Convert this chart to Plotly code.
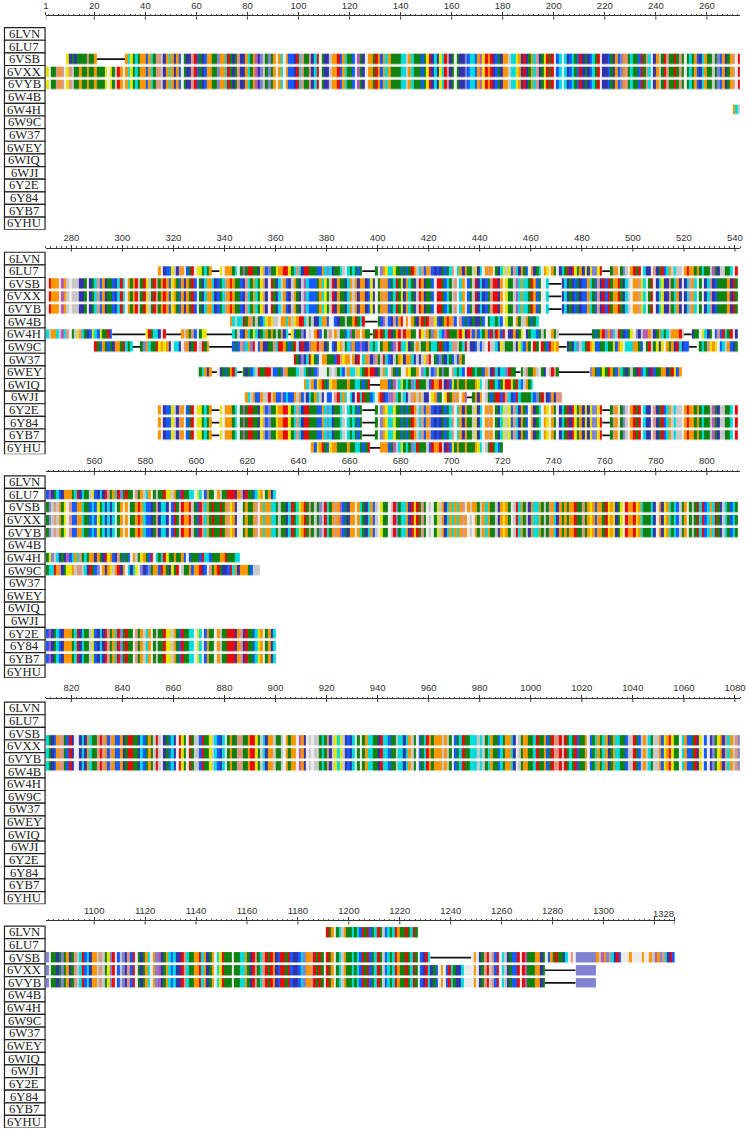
import plotly.graph_objects as go

W, H = 750, 1130
NAMES = ["6LVN","6LU7","6VSB","6VXX","6VYB","6W4B","6W4H","6W9C","6W37","6WEY","6WIQ","6WJI","6Y2E","6Y84","6YB7","6YHU"]

# residue classes and their colours
RES_COLORS = {
 "D":"#E60A0A","E":"#E60A0A","C":"#E6E600","M":"#E6E600","K":"#145AFF","R":"#145AFF",
 "S":"#FA9600","T":"#FA9600","F":"#3232AA","Y":"#3232AA","N":"#00DCDC","Q":"#00DCDC",
 "G":"#EBEBEB","L":"#0F820F","V":"#0F820F","I":"#0F820F","A":"#C8C8C8","W":"#B45AB4",
 "H":"#8282D2","P":"#DC9682"}

SPIKE_SIGNAL = "MFVFLVLLPLVS"
ALT_SIGNAL = "MGILPSPGMPALLSLVSLLSVLLMGCVAETGT"
SPIKE_N = ("SQCVNLTTRTQLPPAYTNSFTRGVYYPDKVFRSSVLHSTQDLFLPFFSNVTWFHAIHVSGTNGTKRFDNPVLPFNDGVYFASTEKSNIIRGWIFGTTLDSKTQSLLIVNNATNVVIKVCEFQFCNDPFLGVYYHKNNKSWMESEFRVYSSANNCTFEYVSQPFLMDLEGKQGNFKNLREFVFKNIDGYFKIYSKHTPINLVRDLPQGFSALEPLVDLPIGINITRFQTLLALHRSYLTPGDSSSGWTAGAAAYYVGYLQPRTFLLKYNENGTITDAVDCALDPLSETKCTLKSFTVEKGIYQTSNFRVQPTESIVRFPNITNLCPFGEVFNATRFASVYAWNRKRISNCVADYSVLYNSASFSTFKCYGVSPTKLNDLCFTNVYADSFVIRGDEVRQIAPGQTGKIADYNYKLPDDFTGCVIAWNSNNLDSKVGGN")
SPIKE_C_A = ("YNYLYRLFRKSNLKPFERDISTEIYQAGSTPCNGVEGFNCYFPLQSYGFQPTNGVGYQPYRVVVLSFELLHAPATVCGPKKSTNLVKNKCVNFNFNGLTGTGVLTESNKKFLPFQQFGRDIADTTDAVRDPQTLEILDITPCSFGGVSVITPGTNTSNQVAVLYQDVNCTEVPVAIHADQLTPTWRVYSTGSNVFQTRAGCLIGAEHVNNSYECDIPIGAGICASYQTQTNSP")
SPIKE_C_B = ("SVASQSIIAYTMSLGAENSVAYSNNSIAIPTNFTISVTTEILPVSMTKTSVDCTMYICGDSTECSNLLLQYGSFCTQLNRALTGIAVEQDKNTQEVFAQIKQIYKTPPIKDFGGFNFSQILPDPSKPSKRSFIEDLLFNKVTLADAGFIKQYGDCLGDIAARDLICAQKFNGLTVLPPLLTDEMIAQYTSALLAGTITSGWTFGAGAALQIPFAMQMAYRFNGIGVTQNVLYENQKLIANQFNSAIGKIQDSLSSTASALGKLQDVVNQNAQALNTLVKQLSSNFGAISSVLNDILSRLDPPEAEVQIDRLITGRLQSLQTYVTQQLIRAAEIRASANLAATKMSECVLGQSKRVDFCGKGYHLMSFPQSAPHGVVFLHVTYVPAQEKNFTTAPAICHDGKAHFPREGVFVSNGTHWFVTQRNFYEPQIITTDNTFVSGNCDVVIGIVNNTVYDPLQPELDSFKEELDKYFKNHTSPDVDLGDISGINASVVNIQKEIDRLNEVAKNLNESLIDLQELGKYEQ")
TAIL_VSB = "GSGYIPEAPRDGQAYVRKDGEWVLLSTFLGRSLEVLFQGPGHHHHHHHHSAWSHPQFEKGGGSGGGGSGGSAWSHPQFEK"
TAIL_VXX = "YIKGSGRENLYFQGGGGSGYIPEAPRDGQAYVRKDGEWVLLSTFLHHHHHHHH"
MPRO = "SGFRKMAFPSGKVEGCMVQVTCGTTTLNGLWLDDVVYCPRHVICTSEDMLNPNYEDLLIRKSNHNFLVQAGNVQLRVIGHSMQNCVLKLKVDTANPKTPKYKFVRIQPGQTFSVLACYNGSPSGVYQCAMRPNFTIKGSFLNGSCGSVGFNIDYDCVSFCYMHHMELPTGVHAGTDLEGNFYGPFVDRQTAQAAGTDTTITVNVLAWLYAAVINGDRWFLNRFTTTLNDFNLVAMKYNYEPLTQDHVDILGPLSAQTGIAVLDMCASLKELLQNGMNGRTILGSALLEDEFTPFDVVRQCSGVTFQ"
NSP9 = "SNANNELSPVALRQMSCAAGTTQTACTDDNALAYYNTTKGGRFVLALLSDLQDLKWARFPKSDGTGTIYTELEPPCRFVTDTPKGPKVKYLYFIKGLNNLNRGMVLGSLAATVRLQ"
NSP16 = "SNASSQAWQPGVAMPNLYKMQRMLLEKCDLQNYGDSATLPKGIMMNVAKYTQLCQYLNTLTLAVPYNMRVIHFGAGSDKGVAPGTAVLRQWLPTGTLLVDSDLNDFVSDADSTLIGDCATVHTANKWDLIISDMYDPKTKNVTKENDSKEGFFTYICGFIQQKLALGGSVAIKITEHSWNADLYKLMGHFAWWTAFVTNVNASSSEAFLIGCNYLGKPREQIDGYVMHANYIFWRNTNPIQLSSYSLFDMSKFPLKLRGTAVMSLKEGQINDMILSLLSKGRLIIRENNRVVISSDVLVNN"
PLPRO = "EVRTIKVFTTVDNINLHTQVVDMSMTYGQQFGPTYLDGADVTKIKPHNSHEGKTFYVLPNDDTLRVEAFEYYHTTDPSFLGRYMSALNHTKKWKYPQVNGLTSIKWADNNCYLATALLTLQQIELKFNPPALQDAYYRARAGEAANFCALILAYCNKTVGELGDVRETMSYLFQHANLDSCKRVLNVVCKTCGQQQTTLKGVEAVMYMGTLSYEQFKKGVQIPCTCGKQATKYLVQQESPFVMMSAPPAQYELKHGTFTCASEYTGNYQCGHYKHITSKETLYCIDGALLTKSSEYKGPITDVFYKENSYTTTIKAAA"
ORF7A = "ELYHYQECVRGTTVLLKEPCSSGTYEGNSPFHPLADNKFALTCFSTQFAFACPDGVKHVYQLRARSV"
MACRO = "GVNSFSGYLKLTDNVYIKNADIVEEAKKVKPTVVVNAANVYLKHGGGVAGALNKATNNAMQVESDDYIATNGPLKVGGSCVLSGHNLAKHCLHVVGPNVNKGEDIQLLKSAYENFNQHEVLLAPLLSAGIFGADPIHSLRVCVDTVRTNVYLAVFDKNLYDKLVSSFLEMKS"
NSP7_SNA = "SNASKMSDVKCTSVVLLSVLQQLRVESSSKLWAQCVQLHNDILLAKDTTEAFEKMVSLLSVLLSMQGAVDINKLCEEMLDNRATLQ"
NSP7_SHORT = "SKMSDVKCTSVVLLSVLQQLRVESSSKLWAQCVQLHNDILLAKDTTEAFEKMVSLLSVLLSMQGAVDINKL"
NCTD = "SNATKKSAAEASKKPRQKRTATKAYNVTQAFGRRGPEQTQGNFGDQELIRQGTDYKHWPQIAQFAPSASAFFGMSRIGMEVTPSGTWLTYTGAIKLDDKDPNFKDQVILLNKHIDAYKTFPP"
HR2 = "DISGINASVVNIQKEIDRLNEVAKNLNESLIDLQEL"

# name: first column, residues, [(column where a gap opens, gap length)]
MPRO_GAPS = [(335,3),(394,5),(488,3)]
ALIGN = {
 "6LVN": (1191, HR2, []),
 "6LU7": (314, MPRO, MPRO_GAPS),
 "6VSB": (8, SPIKE_SIGNAL+SPIKE_N+SPIKE_C_A+"GSAS"+SPIKE_C_B+TAIL_VSB, [(20,11),(467,5),(1232,16)]),
 "6VXX": (0, ALT_SIGNAL+SPIKE_N[1:]+SPIKE_C_A+"SGAG"+SPIKE_C_B+TAIL_VXX, [(467,5),(1277,12)]),
 "6VYB": (0, ALT_SIGNAL+SPIKE_N[1:]+SPIKE_C_A+"SGAG"+SPIKE_C_B+TAIL_VXX, [(467,5),(1277,12)]),
 "6W4B": (342, NSP9, [(395,5)]),
 "6W4H": (269, NSP16, [(296,13),(317,6),(333,10),(365,1),(397,1),(471,13),(520,3)]),
 "6W9C": (289, PLPRO, [(304,3),(334,9),(471,3),(522,3)]),
 "6W37": (367, ORF7A, []),
 "6WEY": (329, MACRO, [(335,2),(345,2),(454,2),(471,12)]),
 "6WIQ": (371, NSP7_SNA, [(397,4)]),
 "6WJI": (348, NCTD, [(435,2)]),
 "6Y2E": (314, MPRO, MPRO_GAPS),
 "6Y84": (314, MPRO, MPRO_GAPS),
 "6YB7": (314, MPRO, MPRO_GAPS),
 "6YHU": (374, NSP7_SHORT, [(397,4)]),
}

PANEL_COLS = [(0,272),(270,541),(541,812),(810,1082),(1081,1328)]
PANEL_RANGE = [(0,272),(270,542),(541,813),(810,1082),(1081,1328)]
PANEL_RIGHT = [745,745,745,745,679]
PANEL_AXIS_Y = [14.5,247,471,698.3,921]
PANEL_ROW0_Y = [32,257,481,707.7,932]
PANEL_BAND_SHIFT = [0,0,0,7,0]
ROW_PITCH = 12.65
LEFT = 43.3
TICK_LABELS = [
 [1]+list(range(20,261,20)),
 list(range(280,541,20)),
 list(range(560,801,20)),
 list(range(820,1081,20)),
 list(range(1100,1301,20))+[1320,1328],
]

letters = sorted(RES_COLORS)
index = {c:i for i,c in enumerate(letters)}
n = len(letters)
cscale = []
for i,c in enumerate(letters):
    cscale += [[i/n, RES_COLORS[c]], [(i+1)/n, RES_COLORS[c]]]

def place(start, seq, gaps):
    cells, col = {}, start
    gapmap = dict(gaps)
    for ch in seq:
        if col in gapmap:
            col += gapmap[col]
        cells[col] = ch
        col += 1
    return cells

placed = {k: place(*v) for k,v in ALIGN.items()}

fig = go.Figure()
shapes, annos = [], []
layout = {}
for p,(c0,c1) in enumerate(PANEL_COLS):
    sfx = "" if p==0 else str(p+1)
    xname, yname = "x"+sfx, "y"+sfx
    cols = list(range(c0,c1))
    shift = PANEL_BAND_SHIFT[p]/ROW_PITCH
    z = [[(index[placed[nm][c]]+0.5) if c in placed[nm] else None for c in cols] for nm in NAMES]
    fig.add_trace(go.Heatmap(z=z, x=[c+0.5 for c in cols], y=[r+shift for r in range(16)], xaxis=xname, yaxis=yname,
        colorscale=cscale, zmin=0, zmax=n, showscale=False, hoverinfo="skip", ygap=2.6, xgap=0))
    lx, ly = [], []
    for r,nm in enumerate(NAMES):
        for g,l in ALIGN[nm][2]:
            if c0 <= g < c1:
                lx += [g, g+l, None]
                ly += [r+shift, r+shift, None]
    if lx:
        fig.add_trace(go.Scatter(x=lx,y=ly,mode="lines",line=dict(color="#111",width=1.7),
             xaxis=xname,yaxis=yname,hoverinfo="skip",showlegend=False))
    ya, y0 = PANEL_AXIS_Y[p], PANEL_ROW0_Y[p]
    labels = TICK_LABELS[p]
    vals = [v-1 for v in labels] if p==0 else labels
    texts = [("" if v in (1320,1328) else str(v)) for v in labels]
    layout["xaxis"+sfx] = dict(domain=[LEFT/W, PANEL_RIGHT[p]/W], range=list(PANEL_RANGE[p]), anchor=yname, side="top",
        tickmode="array", tickvals=vals, ticktext=texts, ticks="outside", ticklen=3, tickwidth=1, tickcolor="#333",
        tickfont=dict(family="Liberation Sans", size=9.5, color="#333"), showline=True, linecolor="#333", linewidth=1,
        showgrid=False, zeroline=False,
        minor=dict(ticks="outside", ticklen=1.5, tickwidth=1, tickcolor="#555", dtick=2, tick0=vals[0] if p else 1, showgrid=False))
    top = -(y0-ya)/ROW_PITCH
    layout["yaxis"+sfx] = dict(domain=[1-(y0+15.5*ROW_PITCH)/H, 1-ya/H], range=[15.5, top], anchor=xname, visible=False)
    for v in vals:
        shapes.append(dict(type="line", xref=xname, yref="paper", x0=v, x1=v, y0=1-ya/H, y1=1-(ya+3)/H, line=dict(color="#333",width=1)))
    for r,nm in enumerate(NAMES):
        shapes.append(dict(type="rect", xref="paper", yref=yname, x0=1.5/W, x1=42.5/W, y0=r-0.5, y1=r+0.5,
                           line=dict(color="#222",width=1.2), fillcolor="white"))
        annos.append(dict(text=nm, xref="paper", yref=yname, x=21.5/W, y=r, showarrow=False, xanchor="center", yanchor="middle",
                          borderpad=0, font=dict(family="Liberation Serif", size=12.7, color="#222")))

annos.append(dict(text="1328", xref="paper", yref="paper", x=668/W, y=1-913/H, showarrow=False, xanchor="center", yanchor="middle",
                  font=dict(family="Liberation Sans", size=9.5, color="#333")))

fig.update_layout(width=W, height=H, margin=dict(l=0,r=0,t=0,b=0), autosize=False, paper_bgcolor="white", plot_bgcolor="white",
                  showlegend=False, shapes=shapes, annotations=annos, **layout)
fig.write_html("out.html", config=dict(displayModeBar=False), post_script="document.body.style.margin='0';document.body.style.overflow='hidden';")
